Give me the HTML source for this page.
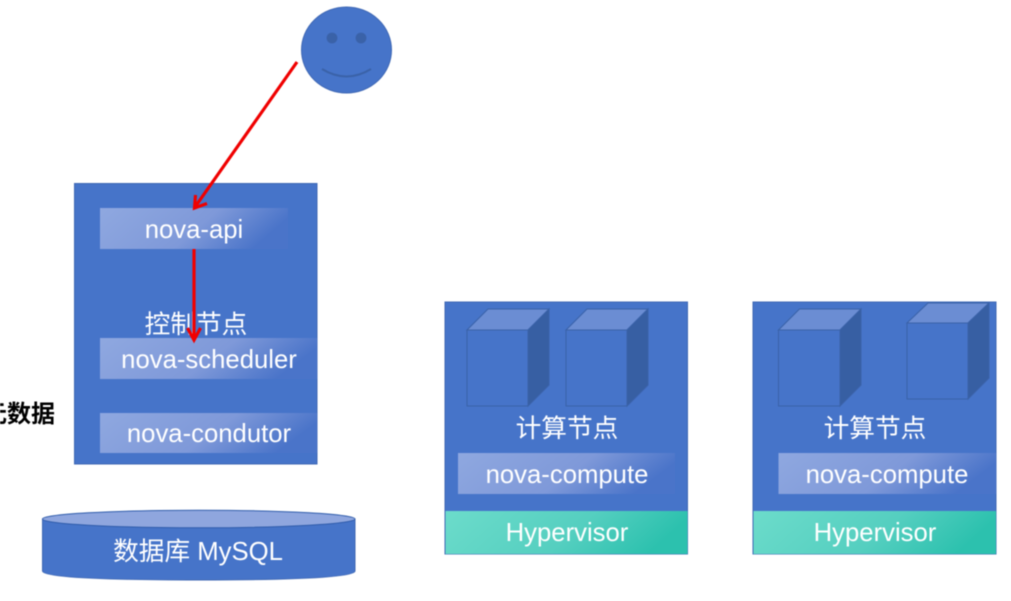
<!DOCTYPE html>
<html>
<head>
<meta charset="utf-8">
<style>
html,body{margin:0;padding:0;background:#fff;width:1011px;height:601px;overflow:hidden}
svg{display:block;filter:blur(0.55px)}
text{font-family:"Liberation Sans","Noto Sans CJK SC",sans-serif;fill:#fff;font-size:25.7px;text-anchor:middle}
</style>
</head>
<body>
<svg width="1011" height="601" viewBox="0 0 1011 601" xmlns="http://www.w3.org/2000/svg">
<defs>
<linearGradient id="g" x1="0" y1="0" x2="1" y2="0.25">
<stop offset="0" stop-color="#8fa8e0"/><stop offset="0.6" stop-color="#7f99d9"/><stop offset="1" stop-color="#4a74c9"/>
</linearGradient>
<linearGradient id="h" x1="0" y1="0" x2="1" y2="0.2">
<stop offset="0" stop-color="#6cdccb"/><stop offset="0.6" stop-color="#55cfc0"/><stop offset="1" stop-color="#2cc1ae"/>
</linearGradient>
</defs>
<rect width="1011" height="601" fill="#fff"/>

<!-- face -->
<ellipse cx="346.5" cy="50" rx="45" ry="43" fill="#4674c9" stroke="#3f68b5" stroke-width="1"/>
<circle cx="332" cy="38" r="5.4" fill="#3a62a8"/>
<circle cx="361" cy="38" r="5.4" fill="#3a62a8"/>
<path d="M322 69 Q346.5 84 371 69" fill="none" stroke="#3a62a8" stroke-width="2"/>

<!-- control node -->
<rect x="74.5" y="183.5" width="242.5" height="280.5" fill="#4674c9" stroke="#3f68b5"/>
<rect x="100" y="208" width="188" height="41" fill="url(#g)"/>
<rect x="100" y="338" width="217" height="41" fill="url(#g)"/>
<rect x="100" y="413" width="217" height="40" fill="url(#g)"/>
<text x="194" y="238">nova-api</text>
<text x="196" y="333">控制节点</text>
<text x="209" y="368">nova-scheduler</text>
<text x="209" y="442">nova-condutor</text>

<!-- arrows -->
<g fill="none" stroke="#f00000" stroke-width="3.2">
<line x1="297" y1="62" x2="195" y2="207"/>
<path d="M195.5 195 L194.5 208 L207 203.5"/>
<line x1="194" y1="249" x2="194" y2="340"/>
<path d="M187.5 328 L194 340 L200.5 328"/>
</g>

<text x="19" y="422" style="font-weight:bold;font-size:24px;fill:#000">元数据</text>

<!-- cylinder -->
<path d="M42.5 519 V571 Q42.5 580 198.5 580 Q355 580 355 571 V519 Z" fill="#4674c9" stroke="#3f68b5"/>
<ellipse cx="198.7" cy="519" rx="156.3" ry="8.8" fill="#8fa6de" stroke="#2f5cab"/>
<text x="198" y="560">数据库 MySQL</text>

<!-- compute 1 -->
<rect x="445" y="302" width="242.5" height="252" fill="#4674c9" stroke="#3f68b5"/>
<rect x="445.5" y="511" width="242" height="43" fill="url(#h)"/>
<rect x="458" y="453" width="217" height="41" fill="url(#g)"/>
<g stroke="#3a62a8" stroke-width="1">
<path d="M467 330 L488 309 H549 L528 330 Z" fill="#6b8dd3"/>
<path d="M528 330 L549 309 V385 L528 406 Z" fill="#375fa3"/>
<rect x="467" y="330" width="61" height="76" fill="#4674c9"/>
<path d="M566 330 L587 309 H648 L627 330 Z" fill="#6b8dd3"/>
<path d="M627 330 L648 309 V385 L627 406 Z" fill="#375fa3"/>
<rect x="566" y="330" width="61" height="76" fill="#4674c9"/>
</g>
<text x="567" y="437">计算节点</text>
<text x="567" y="483">nova-compute</text>
<text x="567" y="541">Hypervisor</text>

<!-- compute 2 -->
<rect x="753" y="302" width="243" height="252" fill="#4674c9" stroke="#3f68b5"/>
<rect x="753.5" y="511" width="242.5" height="43" fill="url(#h)"/>
<rect x="778.5" y="453" width="217.5" height="41" fill="url(#g)"/>
<g stroke="#3a62a8" stroke-width="1">
<path d="M778.5 330 L799.5 309 H861 L840 330 Z" fill="#6b8dd3"/>
<path d="M840 330 L861 309 V385 L840 406 Z" fill="#375fa3"/>
<rect x="778.5" y="330" width="61.5" height="76" fill="#4674c9"/>
<path d="M907 323 L928 303 H989 L968 323 Z" fill="#6b8dd3"/>
<path d="M968 323 L989 303 V378 L968 399 Z" fill="#375fa3"/>
<rect x="907" y="323" width="61" height="76" fill="#4674c9"/>
</g>
<text x="875" y="437">计算节点</text>
<text x="887" y="483">nova-compute</text>
<text x="875" y="541">Hypervisor</text>
</svg>
</body>
</html>
